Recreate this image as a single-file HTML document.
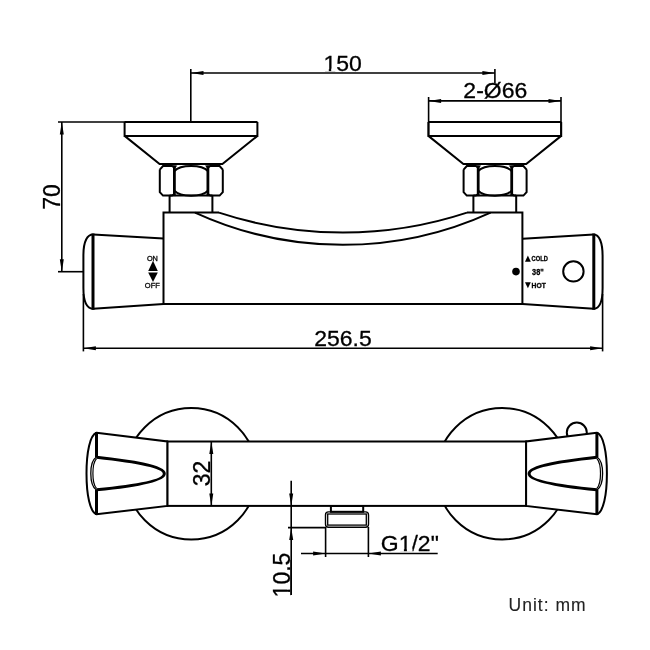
<!DOCTYPE html>
<html><head><meta charset="utf-8"><style>
html,body{margin:0;padding:0;background:#fff;width:650px;height:650px;overflow:hidden}
svg{display:block;filter:grayscale(1)}
text{font-family:"Liberation Sans",sans-serif;fill:#000;stroke:#000;stroke-width:0.3px}
.f{fill:#000;stroke:none}
</style></head><body>
<svg width="650" height="650" viewBox="0 0 650 650">
<rect width="650" height="650" fill="#fff"/>
<g stroke="#000" fill="none" stroke-linecap="butt" stroke-linejoin="miter">
<line x1="191" y1="73" x2="494.9" y2="73" stroke-width="1.6"/>
<line x1="190.8" y1="69" x2="190.8" y2="122" stroke-width="1.6"/>
<line x1="494.9" y1="69" x2="494.9" y2="83" stroke-width="1.6"/>
<polygon class="f" points="191.00,73.00 203.50,71.00 203.50,75.00"/>
<polygon class="f" points="494.90,73.00 482.40,71.00 482.40,75.00"/>
<text x="0" y="0" font-size="23" text-anchor="middle" transform="translate(342.7 70.8) scale(1 0.975)" >150</text>
<line x1="428.6" y1="100.9" x2="561" y2="100.9" stroke-width="1.6"/>
<line x1="428.6" y1="97" x2="428.6" y2="136" stroke-width="1.6"/>
<line x1="561" y1="97" x2="561" y2="136" stroke-width="1.6"/>
<polygon class="f" points="428.60,100.90 441.10,98.90 441.10,102.90"/>
<polygon class="f" points="561.00,100.90 548.50,98.90 548.50,102.90"/>
<text x="0" y="0" font-size="23" text-anchor="middle" transform="translate(495.3 98.4) scale(1 0.975)" >2-Ø66</text>
<line x1="61.8" y1="122" x2="61.8" y2="271.7" stroke-width="1.6"/>
<polygon class="f" points="61.80,122.00 59.80,134.50 63.80,134.50"/>
<polygon class="f" points="61.80,271.70 59.80,259.20 63.80,259.20"/>
<line x1="58" y1="122" x2="257.2" y2="122" stroke-width="1.6"/>
<line x1="58" y1="271.7" x2="83.4" y2="271.7" stroke-width="1.6"/>
<text x="0" y="0" font-size="23" text-anchor="middle" transform="translate(59.8 197) rotate(-90)" >70</text>
<path d="M124.6,122 L257.4,122 M124.6,122 L124.6,135.9 L257.4,135.9 L257.4,122 M124.6,135.9 L159.6,164 L222.4,164 L257.4,135.9" stroke-width="2.0" fill="none"/>
<path d="M159.8,169.6 L163.0,166.0 L172.1,166.0 L174.4,167.6 M159.8,169.6 L159.8,192.2 L163.0,195.6 L172.1,195.6 L174.4,194.0" stroke-width="2.0" fill="none"/>
<path d="M222.8,169.6 L219.60000000000002,166.0 L210.20000000000002,166.0 L207.9,167.6 M222.8,169.6 L222.8,192.2 L219.60000000000002,195.6 L210.20000000000002,195.6 L207.9,194.0" stroke-width="2.0" fill="none"/>
<line x1="174.4" y1="165.5" x2="174.4" y2="196.1" stroke-width="2.8"/>
<line x1="207.9" y1="165.5" x2="207.9" y2="196.1" stroke-width="2.8"/>
<path d="M174.4,171.0 A18 8 0 0 1 207.9,171.0" stroke-width="2.0" fill="none"/>
<path d="M174.4,190.6 A18 8 0 0 0 207.9,190.6" stroke-width="2.0" fill="none"/>
<polygon class="f" points="172.4,165.6 177.4,165.6 174.9,168.2"/>
<polygon class="f" points="204.9,165.6 209.9,165.6 207.4,168.2"/>
<path d="M169.6,195.6 L169.6,212.6 M212.4,195.6 L212.4,212.6 M169.6,195.6 L212.4,195.6" stroke-width="2.0" fill="none"/>
<path d="M428.4,122 L561.2,122 M428.4,122 L428.4,135.9 L561.2,135.9 L561.2,122 M428.4,135.9 L463.40000000000003,164 L526.2,164 L561.2,135.9" stroke-width="2.0" fill="none"/>
<path d="M463.6,169.6 L466.8,166.0 L475.9,166.0 L478.2,167.6 M463.6,169.6 L463.6,192.2 L466.8,195.6 L475.9,195.6 L478.2,194.0" stroke-width="2.0" fill="none"/>
<path d="M526.6,169.6 L523.4,166.0 L514.0,166.0 L511.7,167.6 M526.6,169.6 L526.6,192.2 L523.4,195.6 L514.0,195.6 L511.7,194.0" stroke-width="2.0" fill="none"/>
<line x1="478.2" y1="165.5" x2="478.2" y2="196.1" stroke-width="2.8"/>
<line x1="511.7" y1="165.5" x2="511.7" y2="196.1" stroke-width="2.8"/>
<path d="M478.2,171.0 A18 8 0 0 1 511.7,171.0" stroke-width="2.0" fill="none"/>
<path d="M478.2,190.6 A18 8 0 0 0 511.7,190.6" stroke-width="2.0" fill="none"/>
<polygon class="f" points="476.2,165.6 481.2,165.6 478.7,168.2"/>
<polygon class="f" points="508.7,165.6 513.7,165.6 511.2,168.2"/>
<path d="M473.40000000000003,195.6 L473.40000000000003,212.6 M516.2,195.6 L516.2,212.6 M473.40000000000003,195.6 L516.2,195.6" stroke-width="2.0" fill="none"/>
<path d="M219,212.6 L163.5,212.6 L163.5,304 L522.4,304 L522.4,212.6 L467,212.6" stroke-width="2.0" fill="none"/>
<path d="M219,212.6 A396 396 0 0 0 467,212.6" stroke-width="2.0" fill="none"/>
<path d="M195,212.6 A355 355 0 0 0 490.6,212.6" stroke-width="2.0" fill="none"/>
<path d="M93,234.5 L163.5,238.6 M93,308.8 L163.5,304.1" stroke-width="2.0" fill="none"/>
<line x1="93" y1="233.5" x2="93" y2="309.8" stroke-width="3.0"/>
<path d="M93,234.5 C87.5,234.5 83.4,241 83.4,255 L83.4,288 C83.4,301 87,308.5 93,308.8" stroke-width="2.0" fill="none"/>
<path d="M593.8,234.5 L522.6,238.8 M593.8,308.8 L522.6,304.1" stroke-width="2.0" fill="none"/>
<line x1="593.8" y1="233.5" x2="593.8" y2="309.8" stroke-width="3.0"/>
<path d="M593.8,234.5 C599,234.5 602.6,242 602.6,256 L602.6,288 C602.6,301 599.5,308.5 593.8,308.8" stroke-width="2.0" fill="none"/>
<line x1="83.4" y1="348.2" x2="602.6" y2="348.2" stroke-width="1.6"/>
<line x1="83.4" y1="294" x2="83.4" y2="351.4" stroke-width="1.6"/>
<line x1="602.6" y1="294" x2="602.6" y2="351.4" stroke-width="1.6"/>
<polygon class="f" points="83.40,348.20 95.90,346.20 95.90,350.20"/>
<polygon class="f" points="602.60,348.20 590.10,346.20 590.10,350.20"/>
<text x="0" y="0" font-size="23" text-anchor="middle" transform="translate(343 345.7) scale(1 0.975)" >256.5</text>
<text x="0" y="0" font-size="7.3" text-anchor="middle" transform="translate(152.4 261.1)" textLength="11" lengthAdjust="spacingAndGlyphs">ON</text>
<polygon class="f" points="153,260.8 148.2,270.9 157.8,270.9"/>
<polygon class="f" points="153,282 148.2,272.4 157.8,272.4"/>
<text x="0" y="0" font-size="7.5" text-anchor="middle" transform="translate(152.3 287.8)" textLength="15" lengthAdjust="spacingAndGlyphs">OFF</text>
<polygon class="f" points="527.9,255.4 525,261.7 530.8,261.7"/>
<text x="0" y="0" font-size="6.6" text-anchor="start" transform="translate(531.6 261.3)" font-weight="bold" textLength="16.3" lengthAdjust="spacingAndGlyphs">COLD</text>
<text x="0" y="0" font-size="9" text-anchor="start" transform="translate(532.1 275)" font-weight="bold" textLength="11.6" lengthAdjust="spacingAndGlyphs">38"</text>
<polygon class="f" points="527.9,288.2 525,282.3 530.8,282.3"/>
<text x="0" y="0" font-size="6.8" text-anchor="start" transform="translate(531.6 287.8)" font-weight="bold" textLength="14.2" lengthAdjust="spacingAndGlyphs">HOT</text>
<circle class="f" cx="516" cy="271.6" r="3.8"/>
<circle cx="573.4" cy="271.4" r="10.2" fill="none" stroke-width="2.0"/>
<circle cx="191.3" cy="473.75" r="65.7" fill="none" stroke-width="1.9"/>
<circle cx="502.2" cy="473.75" r="65.7" fill="none" stroke-width="1.9"/>
<circle cx="576.8" cy="432.6" r="10" fill="#fff" stroke-width="2.0"/>
<rect x="167.3" y="441.5" width="359" height="64.4" fill="#fff" stroke-width="2.0"/>
<path d="M96.5,432.8 L167.3,441.5 L167.3,505.9 L96.5,514.3 C90,512 86.5,495 86.5,473.5 C86.5,452 90,435 96.5,432.8 Z" stroke-width="2.0" fill="#fff"/>
<line x1="96.5" y1="432" x2="96.5" y2="457.5" stroke-width="3.0"/>
<line x1="96.5" y1="489.5" x2="96.5" y2="515" stroke-width="3.0"/>
<path d="M96.5,457.0 C92.5,459.5 90.8,465 90.8,473.5 C90.8,482 92.5,487.5 96.5,490.0" stroke-width="1.3" fill="none"/>
<path d="M96.5,458.6 C94.3,461 92.9,466 92.9,473.5 C92.9,481 94.3,486 96.5,488.4" stroke-width="1.2" fill="none"/>
<path d="M96.5,457.3 C130,461 164.3,466 164.3,473.7 C164.3,481.5 130,486.5 96.5,489.8" stroke-width="3.0" fill="none"/>
<path d="M596.9,432.8 L526.1,441.5 L526.1,505.9 L596.9,514.3 C603.4,512 606.9,495 606.9,473.5 C606.9,452 603.4,435 596.9,432.8 Z" stroke-width="2.0" fill="#fff"/>
<line x1="596.9" y1="432" x2="596.9" y2="457.5" stroke-width="3.0"/>
<line x1="596.9" y1="489.5" x2="596.9" y2="515" stroke-width="3.0"/>
<path d="M596.9,457.0 C600.9,459.5 602.6,465 602.6,473.5 C602.6,482 600.9,487.5 596.9,490.0" stroke-width="1.3" fill="none"/>
<path d="M596.9,458.6 C599.1,461 600.5,466 600.5,473.5 C600.5,481 599.1,486 596.9,488.4" stroke-width="1.2" fill="none"/>
<path d="M596.9,457.3 C563.4,461 529.1,466 529.1,473.7 C529.1,481.5 563.4,486.5 596.9,489.8" stroke-width="3.0" fill="none"/>
<line x1="211.3" y1="441.5" x2="211.3" y2="505.9" stroke-width="1.6"/>
<polygon class="f" points="211.30,441.50 209.30,454.00 213.30,454.00"/>
<polygon class="f" points="211.30,505.90 209.30,493.40 213.30,493.40"/>
<text x="0" y="0" font-size="23" text-anchor="middle" transform="translate(209.6 473.5) rotate(-90)" >32</text>
<rect x="330.9" y="506" width="32.3" height="5.8" fill="none" stroke-width="2.0"/>
<rect x="325.5" y="511.9" width="43" height="15.3" rx="3" fill="none" stroke-width="1.4"/>
<rect x="327.7" y="514.0" width="38.6" height="11.1" fill="none" stroke-width="1.3"/>
<line x1="291.2" y1="480.8" x2="291.2" y2="595" stroke-width="1.6"/>
<polygon class="f" points="291.20,505.90 289.20,493.40 293.20,493.40"/>
<polygon class="f" points="291.20,527.60 289.20,540.10 293.20,540.10"/>
<line x1="288" y1="527.6" x2="325.6" y2="527.6" stroke-width="1.6"/>
<text x="0" y="0" font-size="23" text-anchor="middle" transform="translate(289.8 575) rotate(-90)" >10.5</text>
<line x1="325.6" y1="527" x2="325.6" y2="557" stroke-width="1.6"/>
<line x1="368.4" y1="527" x2="368.4" y2="557" stroke-width="1.6"/>
<line x1="301" y1="553.5" x2="437.7" y2="553.5" stroke-width="1.6"/>
<polygon class="f" points="325.60,553.50 313.10,551.50 313.10,555.50"/>
<polygon class="f" points="368.40,553.50 380.90,551.50 380.90,555.50"/>
<text x="0" y="0" font-size="23" text-anchor="start" transform="translate(380.8 551.1) scale(1 0.975)" >G1/2"</text>
<text x="0" y="0" font-size="17.5" text-anchor="start" transform="translate(508.6 611.2)" letter-spacing="1" style="fill:#222;stroke:#222;stroke-width:0.1px">Unit: mm</text>
<rect x="324.2" y="68.7" width="4.6" height="2.6" fill="#fff" stroke="none"/>
<rect x="331.2" y="68.7" width="5.2" height="2.6" fill="#fff" stroke="none"/>
<rect x="399.5" y="548.6" width="4.4" height="3.0" fill="#fff" stroke="none"/>
<rect x="406.9" y="548.6" width="5.6" height="3.0" fill="#fff" stroke="none"/>
<rect x="287.4" y="584.6" width="2.7" height="5.0" fill="#fff" stroke="none"/>
<rect x="287.4" y="591.9" width="2.7" height="4.2" fill="#fff" stroke="none"/>
<line x1="291.2" y1="560" x2="291.2" y2="595" stroke-width="1.6"/>
</g></svg></body></html>
